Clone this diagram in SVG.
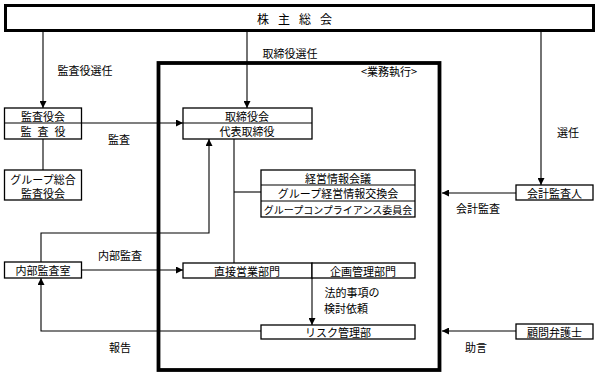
<svg xmlns="http://www.w3.org/2000/svg" width="598" height="376" viewBox="0 0 598 376">
<defs>
<style>
text{font-family:"Noto Sans CJK JP","Noto Sans CJK SC",sans-serif;font-size:11px;fill:#000;text-anchor:middle;dominant-baseline:central}
.box{fill:#fff;stroke:#000;stroke-width:1.3}
.ln{fill:none;stroke:#000;stroke-width:1.1}
</style>
<marker id="ah" viewBox="0 0 10 10" refX="10" refY="5" markerWidth="7" markerHeight="7" markerUnits="userSpaceOnUse" orient="auto">
<path d="M0,0 L10,5 L0,10 z" fill="#000"/>
</marker>
</defs>
<rect width="598" height="376" fill="#fff"/>
<g id="frame">
<rect x="158.5" y="63" width="281" height="307" fill="none" stroke="#000" stroke-width="3.8"/>
<text x="389" y="71">&lt;業務執行&gt;</text>
</g>
<g id="connectors">
<line class="ln" x1="43" y1="32" x2="43" y2="108" marker-end="url(#ah)"/>
<line class="ln" x1="247" y1="32" x2="247" y2="108" marker-end="url(#ah)"/>
<line class="ln" x1="541" y1="32" x2="541" y2="185" marker-end="url(#ah)"/>
<line class="ln" x1="81" y1="123" x2="183" y2="123" marker-end="url(#ah)"/>
<line class="ln" x1="43" y1="139" x2="43" y2="170"/>
<polyline class="ln" points="41,262 41,233 209,233 209,139" marker-end="url(#ah)"/>
<polyline class="ln" points="234,139 234,263"/>
<line class="ln" x1="234" y1="192" x2="261" y2="192"/>
<line class="ln" x1="516" y1="193" x2="442" y2="193" marker-end="url(#ah)"/>
<line class="ln" x1="81" y1="270" x2="183" y2="270" marker-end="url(#ah)"/>
<line class="ln" x1="312" y1="278" x2="312" y2="325" marker-end="url(#ah)"/>
<polyline class="ln" points="261,331 41,331 41,278" marker-end="url(#ah)"/>
<line class="ln" x1="516" y1="331" x2="442" y2="331" marker-end="url(#ah)"/>
<text x="85" y="70">監査役選任</text>
<text x="290" y="53">取締役選任</text>
<text x="568" y="132">選任</text>
<text x="119" y="139">監査</text>
<text x="478" y="208">会計監査</text>
<text x="120" y="255">内部監査</text>
<text x="352" y="292">法的事項の</text>
<text x="346" y="307.5">検討依頼</text>
<text x="120" y="347">報告</text>
<text x="476" y="347">助言</text>
</g>
<g id="shareholders">
<rect x="5.5" y="5.5" width="588" height="25" fill="#fff" stroke="#000" stroke-width="3"/>
<text x="299" y="18" style="font-size:12px;letter-spacing:9px">株主総会</text>
</g>
<g id="kansayakukai">
<rect class="box" x="4.5" y="108" width="77" height="31"/>
<line class="ln" x1="4.5" y1="123" x2="81.5" y2="123"/>
<text x="43" y="116">監査役会</text>
<text x="46" y="131" style="letter-spacing:6px">監査役</text>
</g>
<g id="group-kansa">
<rect class="box" x="4.5" y="170" width="77" height="30"/>
<text x="43" y="178.5">グループ総合</text>
<text x="43" y="193">監査役会</text>
</g>
<g id="torishimariyaku">
<rect class="box" x="183" y="108" width="129" height="31"/>
<line class="ln" x1="183" y1="123" x2="312" y2="123"/>
<text x="247" y="116">取締役会</text>
<text x="247" y="131">代表取締役</text>
</g>
<g id="keiei">
<rect class="box" x="261" y="170" width="154" height="47"/>
<line class="ln" x1="261" y1="185" x2="415" y2="185"/>
<line class="ln" x1="261" y1="201" x2="415" y2="201"/>
<text x="338" y="177.5">経営情報会議</text>
<text x="338" y="193">グループ経営情報交換会</text>
<text x="338" y="209" style="font-size:10px">グループコンプライアンス委員会</text>
</g>
<g id="kaikei">
<rect class="box" x="516" y="185" width="77" height="15"/>
<text x="554.5" y="192.5">会計監査人</text>
</g>
<g id="naibu">
<rect class="box" x="4.5" y="262" width="77" height="16"/>
<text x="43" y="270">内部監査室</text>
</g>
<g id="eigyo">
<rect class="box" x="183" y="263" width="129" height="15"/>
<text x="247" y="270.5">直接営業部門</text>
</g>
<g id="kikaku">
<rect class="box" x="312" y="263" width="103" height="15"/>
<text x="363" y="270.5">企画管理部門</text>
</g>
<g id="risk">
<rect class="box" x="261" y="325" width="154" height="14"/>
<text x="338" y="332">リスク管理部</text>
</g>
<g id="komon">
<rect class="box" x="516" y="324" width="77" height="15"/>
<text x="554.5" y="331.5">顧問弁護士</text>
</g>
</svg>
